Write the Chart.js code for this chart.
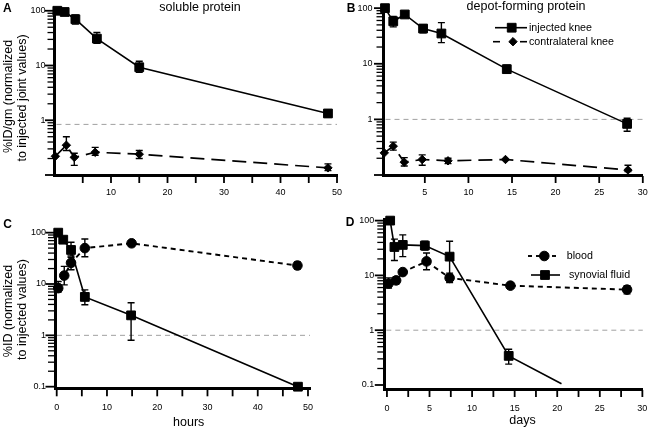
<!DOCTYPE html>
<html><head><meta charset="utf-8">
<script src="https://cdn.jsdelivr.net/npm/chart.js@4/dist/chart.umd.min.js"></script>
<style>
html,body{margin:0;padding:0;background:#fff;}
#wrap{position:relative;width:650px;height:429px;overflow:hidden;background:#fff;}
canvas{position:absolute;}
</style></head><body>
<div id="wrap">
<canvas id="cA" width="346" height="210" style="left:0px;top:0px"></canvas>
<canvas id="cB" width="310" height="210" style="left:340px;top:0px"></canvas>
<canvas id="cC" width="346" height="219" style="left:0px;top:210px"></canvas>
<canvas id="cD" width="310" height="219" style="left:340px;top:210px"></canvas>
</div>
<script>
const FONT = '"Liberation Sans", Arial, Helvetica, sans-serif';

// ---------- Panel A : soluble protein (hours) ----------
const aInjX  = [0.5, 1.8, 3.7, 7.5, 15, 48.4];
const aInjY  = [100, 95, 70, 31, 9.3, 1.33];
const aInjLo = [90, 84, 57, 25.5, 7.5, 1.15];
const aInjHi = [110, 108, 84, 40, 12, 1.55];
const aConX  = [0.15, 2.1, 3.5, 7.2, 15, 48.4];
const aConY  = [0.22, 0.35, 0.21, 0.26, 0.24, 0.135];
const aConLo = [null, 0.28, 0.15, 0.23, 0.20, 0.12];
const aConHi = [null, 0.50, 0.25, 0.32, 0.28, 0.16];
const aRef = 0.84;
const aXTicks  = [5, 10, 15, 20, 25, 30, 35, 40, 45, 50];
const aXLabels = [10, 20, 30, 40, 50];
const aYLabels = [100, 10, 1];

// ---------- Panel B : depot-forming protein (days) ----------
const bInjX  = [0.43, 1.38, 2.7, 4.8, 6.9, 14.4, 28.2];
const bInjY  = [100, 58, 77, 43, 35, 8.0, 0.83];
const bInjLo = [null, 46, 70, 36, 24, 6.8, 0.61];
const bInjHi = [null, 71, 85, 50, 55, 9.4, 1.05];
const bConX  = [0.35, 1.38, 2.64, 4.7, 7.66, 14.25, 28.3];
const bConY  = [0.25, 0.33, 0.17, 0.19, 0.18, 0.19, 0.123];
const bConLo = [null, 0.28, 0.145, 0.15, 0.16, null, 0.115];
const bConHi = [null, 0.39, 0.205, 0.23, 0.20, null, 0.15];
const bRef = 1;
const bXTicks  = [5, 10, 15, 20, 25, 30];
const bXLabels = [5, 10, 15, 20, 25, 30];
const bYLabels = [100, 10, 1];

// ---------- Panel C : hours, blood vs synovial fluid ----------
const cSynX  = [0.3, 1.3, 2.85, 5.6, 14.8, 48];
const cSynY  = [100, 73, 46, 5.6, 2.45, 0.1];
const cSynLo = [null, null, 35, 3.95, 0.8, null];
const cSynHi = [null, null, 65, 7.7, 4.3, null];
const cBloX  = [0.3, 1.5, 2.85, 5.6, 14.9, 47.9];
const cBloY  = [8.3, 14.6, 25.8, 50, 62, 22.9];
const cBloLo = [7.0, 9.6, 19, 34, null, 19.5];
const cBloHi = [11.2, 22, 33, 75, null, 27];
const cRef = 1;
const cXTicks  = [0, 5, 10, 15, 20, 25, 30, 35, 40, 45, 50];
const cXLabels = [0, 10, 20, 30, 40, 50];
const cYLabels = [100, 10, 1, 0.1];

// ---------- Panel D : days, blood vs synovial fluid ----------
const dSynX  = [0.38, 0.88, 1.86, 4.45, 7.36, 14.3, 20.5];
const dSynY  = [100, 33, 36, 35, 22, 0.34, 0.105];
const dSynLo = [null, 18.7, 22, 29, 10.3, 0.24, null];
const dSynHi = [null, 46, 55, 42, 42, 0.45, null];
const dBloX  = [0.19, 1.08, 1.86, 4.65, 7.36, 14.5, 28.2];
const dBloY  = [7.1, 8.1, 11.5, 18, 9, 6.5, 5.5];
const dBloLo = [5.9, 7, 10.5, 12.7, 7.4, 6, 4.6];
const dBloHi = [9, 9.5, 12.5, 25.7, 11, 7, 6.5];
const dRef = 1;
const dXTicks  = [0, 2.5, 5, 7.5, 10, 12.5, 15, 17.5, 20, 22.5, 25, 27.5, 30];
const dXLabels = [0, 5, 10, 15, 20, 25, 30];
const dYLabels = [100, 10, 1, 0.1];

// log tick marks (1..9 per decade)
function logTicks(min, max) {
  const t = [];
  for (let e = -2; e <= 3; e++) for (let s = 1; s < 10; s++) {
    const v = s * Math.pow(10, e);
    const vv = e < 0 ? +v.toFixed(-e) : v;
    if (vv >= min - 1e-9 && vv <= max + 1e-9) t.push({value: vv, major: s === 1});
  }
  return t;
}

function series(xs, ys, lo, hi, style) {
  return Object.assign({
    data: xs.map((x, i) => ({x: x, y: ys[i]})),
    errLo: lo, errHi: hi,
    borderColor: '#000', backgroundColor: '#000',
    pointBackgroundColor: '#000', pointBorderColor: '#000',
    pointBorderWidth: 1, clip: false, tension: 0, fill: false
  }, style);
}
const SQ_R = 6.2, DI_R = 4.2, CI_R = 4.8;
const sqStyle = {pointStyle: 'rect', pointRadius: SQ_R, pointHoverRadius: SQ_R, borderWidth: 1.6};
const diStyle = {pointStyle: 'rectRot', pointRadius: DI_R, pointHoverRadius: DI_R, borderWidth: 1.7, borderDash: [14, 7]};
const ciStyle = {pointStyle: 'circle', pointRadius: CI_R, pointHoverRadius: CI_R, borderWidth: 1.9, borderDash: [5, 4]};

function drawMarker(ctx, shape, x, y, r) {
  ctx.beginPath();
  if (shape === 'rect') { const s = r * Math.SQRT1_2; ctx.rect(x - s, y - s, 2 * s, 2 * s); }
  else if (shape === 'rectRot') { ctx.moveTo(x - r, y); ctx.lineTo(x, y - r); ctx.lineTo(x + r, y); ctx.lineTo(x, y + r); ctx.closePath(); }
  else { ctx.arc(x, y, r, 0, Math.PI * 2); }
  ctx.fill(); ctx.stroke();
}

const deco = {
  id: 'deco',
  beforeDatasetsDraw(chart, args, opts) {
    if (opts.ref == null) return;
    const {ctx, chartArea: a} = chart;
    const py = chart.scales.y.getPixelForValue(opts.ref);
    ctx.save(); ctx.strokeStyle = '#a0a0a0'; ctx.lineWidth = 1; ctx.setLineDash([5, 4]);
    ctx.beginPath(); ctx.moveTo(a.left + 2, py); ctx.lineTo(a.right, py); ctx.stroke(); ctx.restore();
  },
  afterDatasetsDraw(chart) {
    const {ctx} = chart; const sx = chart.scales.x, sy = chart.scales.y;
    ctx.save(); ctx.strokeStyle = '#000'; ctx.lineWidth = 1.4; ctx.setLineDash([]);
    chart.data.datasets.forEach(ds => {
      if (!ds.errLo) return;
      ds.data.forEach((p, i) => {
        const lo = ds.errLo[i], hi = ds.errHi[i];
        if (lo == null || hi == null) return;
        const px = sx.getPixelForValue(p.x), y1 = sy.getPixelForValue(lo), y2 = sy.getPixelForValue(hi);
        ctx.beginPath();
        ctx.moveTo(px, y1); ctx.lineTo(px, y2);
        ctx.moveTo(px - 3.5, y1); ctx.lineTo(px + 3.5, y1);
        ctx.moveTo(px - 3.5, y2); ctx.lineTo(px + 3.5, y2);
        ctx.stroke();
      });
    });
    ctx.restore();
  },
  afterDraw(chart, args, opts) {
    const {ctx, chartArea: a} = chart;
    const sx = chart.scales.x, sy = chart.scales.y;
    // axis tick marks, positioned by the library's scales
    ctx.save(); ctx.strokeStyle = '#000'; ctx.setLineDash([]);
    sy.ticks.forEach(t => {
      const py = sy.getPixelForValue(t.value);
      if (py < a.top - 0.5 || py > a.bottom + 0.5) return;
      const len = t.major ? 8 : 5.5;
      ctx.lineWidth = t.major ? 1.8 : 1.3;
      ctx.beginPath(); ctx.moveTo(a.left - 1, py); ctx.lineTo(a.left - 1.5 - len, py); ctx.stroke();
    });
    ctx.lineWidth = 1.8;
    sx.ticks.forEach(t => {
      const px = sx.getPixelForValue(t.value);
      if (px < a.left - 0.5 || px > a.right + 0.5) return;
      ctx.beginPath(); ctx.moveTo(px, a.bottom + 1); ctx.lineTo(px, a.bottom + 8); ctx.stroke();
    });
    ctx.restore();

    ctx.save();
    ctx.fillStyle = '#000';
    (opts.texts || []).forEach(t => {
      ctx.save();
      ctx.font = t.font; ctx.textAlign = t.align || 'left'; ctx.textBaseline = t.base || 'alphabetic';
      ctx.translate(t.x, t.y);
      if (t.rot) ctx.rotate(t.rot);
      ctx.fillText(t.text, 0, 0);
      ctx.restore();
    });
    (opts.legend || []).forEach(L => {
      ctx.save();
      ctx.strokeStyle = '#000'; ctx.fillStyle = '#000';
      ctx.lineWidth = L.lw || 1.6;
      ctx.setLineDash(L.dash || []);
      L.segs.forEach(s => { ctx.beginPath(); ctx.moveTo(s[0], L.y); ctx.lineTo(s[1], L.y); ctx.stroke(); });
      ctx.setLineDash([]); ctx.lineWidth = 1;
      drawMarker(ctx, L.shape, L.mx, L.y, L.r);
      ctx.font = '10.7px ' + FONT; ctx.textAlign = 'left'; ctx.textBaseline = 'middle';
      ctx.fillText(L.text, L.tx, L.y);
      ctx.restore();
    });
    ctx.restore();
  }
};

function makeChart(id, P) {
  return new Chart(document.getElementById(id), {
    type: 'line',
    data: {datasets: P.datasets},
    options: {
      responsive: false, animation: false, devicePixelRatio: 1, events: [],
      layout: {padding: {left: 0, top: P.padTop, right: P.padRight, bottom: P.padBottom}},
      plugins: {legend: {display: false}, tooltip: {enabled: false}, deco: P.deco},
      scales: {
        x: {
          type: 'linear', min: P.xMin, max: P.xMax,
          afterBuildTicks: s => { s.ticks = P.xTicks.map(v => ({value: v})); },
          afterFit: s => { s.height = P.xH; s.paddingLeft = 0; s.paddingRight = 0; },
          ticks: {autoSkip: false, source: 'data', maxRotation: 0, padding: P.xPad, color: '#000',
                  font: {family: FONT, size: 9}, callback: v => P.xLabels.includes(v) ? String(v) : ''},
          grid: {display: false, drawOnChartArea: false, drawTicks: true, tickLength: 6},
          border: {display: true, color: '#000', width: 3}
        },
        y: {
          type: 'logarithmic', min: P.yMin, max: P.yMax,
          afterBuildTicks: s => { s.ticks = logTicks(0.1, 100); },
          afterFit: s => { s.width = P.yW; s.paddingTop = 0; s.paddingBottom = 0; },
          ticks: {autoSkip: false, source: 'data', padding: P.yPad, color: '#000',
                  font: {family: FONT, size: 9}, callback: v => P.yLabels.includes(v) ? String(v) : ''},
          grid: {display: false, drawOnChartArea: false, drawTicks: true, tickLength: 7},
          border: {display: true, color: '#000', width: 3}
        }
      }
    },
    plugins: [deco]
  });
}

const titleFont = '12.5px ' + FONT;
const letterFont = 'bold 12px ' + FONT;
const R90 = -Math.PI / 2;

makeChart('cA', {
  datasets: [series(aInjX, aInjY, aInjLo, aInjHi, sqStyle), series(aConX, aConY, aConLo, aConHi, diStyle)],
  xMin: 0, xMax: 50, yMin: 0.1, yMax: 110,
  xTicks: aXTicks, xLabels: aXLabels, yLabels: aYLabels,
  yW: 54.5, xH: 30, padTop: 8.5, padRight: 9, padBottom: 5, xPad: 6, yPad: 2,
  deco: {ref: aRef, texts: [
    {text: 'A', x: 3, y: 11.7, font: letterFont},
    {text: 'soluble protein', x: 200, y: 11, font: titleFont, align: 'center'},
    {text: '%ID/gm (normalized', x: 12.4, y: 96.5, font: titleFont, align: 'center', rot: R90},
    {text: 'to injected joint values)', x: 25.7, y: 98, font: titleFont, align: 'center', rot: R90}
  ]}
});

makeChart('cB', {
  datasets: [series(bInjX, bInjY, bInjLo, bInjHi, sqStyle), series(bConX, bConY, bConLo, bConHi, diStyle)],
  xMin: 0.26, xMax: 30, yMin: 0.1, yMax: 104,
  xTicks: bXTicks, xLabels: bXLabels, yLabels: bYLabels,
  yW: 43.5, xH: 30, padTop: 4, padRight: 6, padBottom: 5, xPad: 6, yPad: 4,
  deco: {ref: bRef, texts: [
    {text: 'B', x: 6.7, y: 11.7, font: letterFont},
    {text: 'depot-forming protein', x: 186, y: 10, font: titleFont, align: 'center'}
  ], legend: [
    {y: 27.7, segs: [[155, 187]], shape: 'rect', mx: 171.7, r: SQ_R, text: 'injected knee', tx: 189},
    {y: 41.7, segs: [[153, 160], [180, 187]], shape: 'rectRot', mx: 173, r: DI_R, text: 'contralateral knee', tx: 189}
  ]}
});

makeChart('cC', {
  datasets: [series(cBloX, cBloY, cBloLo, cBloHi, ciStyle), series(cSynX, cSynY, cSynLo, cSynHi, sqStyle)],
  xMin: -0.34, xMax: 50.4, yMin: 0.093, yMax: 103,
  xTicks: cXTicks, xLabels: cXLabels, yLabels: cYLabels,
  yW: 55, xH: 30.7, padTop: 22, padRight: 36, padBottom: 10, xPad: 8, yPad: 2,
  deco: {ref: cRef, texts: [
    {text: 'C', x: 3.3, y: 18.3, font: letterFont},
    {text: '%ID (normalized', x: 12.4, y: 101, font: titleFont, align: 'center', rot: R90},
    {text: 'to injected values)', x: 25.7, y: 99.5, font: titleFont, align: 'center', rot: R90},
    {text: 'hours', x: 188.7, y: 215.5, font: titleFont, align: 'center'}
  ]}
});

makeChart('cD', {
  datasets: [series(dBloX, dBloY, dBloLo, dBloHi, ciStyle),
             series(dSynX, dSynY, dSynLo, dSynHi, Object.assign({}, sqStyle, {pointRadius: [SQ_R, SQ_R, SQ_R, SQ_R, SQ_R, SQ_R, 0]}))],
  xMin: -0.31, xMax: 30.05, yMin: 0.0845, yMax: 107,
  xTicks: dXTicks, xLabels: dXLabels, yLabels: dYLabels,
  yW: 44.3, xH: 30, padTop: 9, padRight: 5, padBottom: 10, xPad: 8, yPad: 3,
  deco: {ref: dRef, texts: [
    {text: 'D', x: 5.7, y: 15.7, font: letterFont},
    {text: 'days', x: 182.5, y: 214, font: titleFont, align: 'center'}
  ], legend: [
    {y: 46, segs: [[188, 220]], dash: [4, 4], lw: 1.9, shape: 'circle', mx: 204.3, r: CI_R, text: 'blood', tx: 226.7},
    {y: 65, segs: [[191, 220]], shape: 'rect', mx: 205, r: SQ_R, text: 'synovial fluid', tx: 229}
  ]}
});
</script>
</body></html>
